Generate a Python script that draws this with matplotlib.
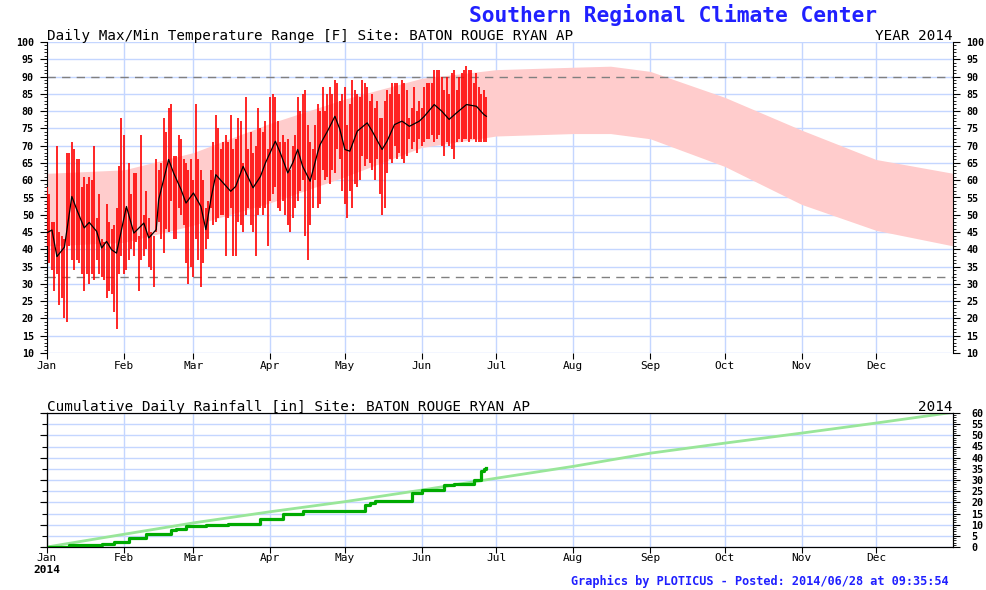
import matplotlib
matplotlib.use("Agg")
import matplotlib.pyplot as plt
import numpy as np

# ---- data (day of year, 0 = Jan 1) ----
month_days = [0, 31, 59, 90, 120, 151, 181, 212, 243, 273, 304, 334]
month_labels = ['Jan', 'Feb', 'Mar', 'Apr', 'May', 'Jun',
                'Jul', 'Aug', 'Sep', 'Oct', 'Nov', 'Dec']

# daily max / min temperature, Jan 1 .. Jun 27 2014
t_max = [58, 56, 48, 48, 70, 45, 44, 43, 68, 68, 71, 69, 66, 66, 58, 61, 59, 61,
         60, 70, 49, 56, 43, 42, 53, 48, 46, 47, 52, 64, 78, 73, 52, 65, 56, 62,
         62, 44, 73, 50, 57, 49, 45, 44, 66, 63, 65, 78, 74, 81, 82, 67, 67, 73,
         72, 66, 65, 63, 66, 60, 82, 66, 63, 60, 52, 54, 63, 71, 79, 75, 69, 71, 73,
         71, 79, 69, 72, 78, 77, 65, 84, 69, 74, 68, 70, 81, 75, 74, 77, 69, 84,
         85, 84, 77, 71, 73, 71, 72, 63, 70, 73, 84, 80, 85, 86, 76, 71, 69, 76,
         82, 80, 87, 80, 85, 87, 85, 89, 88, 83, 85, 87, 76, 82, 89, 86, 85, 84,
         89, 88, 87, 83, 85, 81, 83, 78, 78, 83, 86, 85, 88, 88, 88, 85, 89, 88, 86,
         78, 81, 87, 80, 83, 81, 87, 88, 88, 88, 92, 92, 92, 90, 86, 90, 85, 91,
         92, 86, 90, 91, 92, 93, 92, 92, 88, 91, 87, 85, 86, 84]
t_min = [41, 36, 34, 28, 33, 24, 26, 20, 19, 41, 37, 34, 37, 36, 33, 28, 33, 30,
         33, 31, 37, 33, 32, 31, 26, 28, 27, 22, 17, 33, 38, 33, 34, 37, 40, 38,
         42, 28, 37, 38, 40, 35, 34, 29, 45, 48, 43, 39, 46, 45, 54, 43, 43, 52,
         50, 47, 36, 30, 35, 32, 43, 37, 29, 36, 40, 43, 52, 47, 48, 49, 50, 50, 38,
         49, 52, 38, 38, 48, 47, 45, 50, 52, 47, 45, 38, 50, 52, 50, 52, 41, 54,
         56, 58, 52, 51, 54, 50, 47, 45, 49, 52, 54, 57, 60, 44, 37, 47, 52, 60,
         52, 53, 63, 60, 61, 59, 63, 62, 69, 66, 57, 53, 49, 57, 52, 59, 58, 60,
         67, 64, 66, 65, 63, 60, 66, 56, 50, 52, 62, 66, 65, 70, 66, 68, 66, 65, 67,
         72, 69, 71, 68, 72, 70, 71, 72, 72, 73, 71, 72, 73, 70, 67, 71, 70, 69,
         66, 71, 72, 71, 72, 72, 71, 72, 72, 71, 71, 71, 71, 71]

# running mean (black line)
avg_days = [0, 2, 4, 7, 10, 12, 15, 17, 20, 22, 24, 26, 28, 32, 35, 39, 41, 44,
            45, 49, 51, 54, 56, 59, 62, 64, 66, 68, 71, 74, 76, 79, 83, 86, 88,
            92, 94, 97, 99, 101, 103, 106, 109, 110, 113, 116, 118, 120, 122, 125,
            129, 131, 135, 137, 140, 143, 146, 150, 152, 156, 159, 162, 165, 169,
            173, 176, 177]
avg_vals = [44.8, 45.6, 37.9, 40.6, 55.3, 51.5, 46.2, 47.8, 45.2, 40.4, 42.3, 39.9,
            38.9, 52.4, 44.7, 47.6, 43.3, 45.7, 54.4, 66.0, 62.1, 57.3, 53.4, 56.3,
            52.4, 45.7, 54.4, 61.6, 59.2, 56.8, 58.2, 64.0, 57.8, 61.1, 65.0, 71.3,
            67.9, 62.1, 65.0, 68.9, 64.0, 59.7, 67.9, 70.3, 74.2, 78.5, 74.7, 68.9,
            68.4, 74.2, 76.6, 74.2, 68.9, 71.3, 76.1, 77.1, 75.6, 77.1, 78.5, 81.9,
            80.0, 77.6, 79.5, 81.9, 81.4, 79.0, 78.5]

# normal max / min (pink band)
norm_days = [0, 31, 59, 90, 120, 151, 181, 212, 227, 243, 273, 304, 334, 365]
norm_max = [62, 63, 68, 76.5, 83.5, 89.5, 92, 92.7, 93, 91.5, 84, 74.5, 66, 62]
norm_min = [41, 42, 47, 53.5, 61, 69.5, 72.8, 73.5, 73.5, 72, 64, 53, 45.5, 41]

ref_hot = 90
ref_freeze = 32

# cumulative rainfall 2014 (step points)
rain_days = [0, 9, 22, 27, 33, 40, 50, 52, 56, 59, 64, 73, 86, 95, 103, 128,
             130, 132, 147, 151, 160, 164, 172, 175, 176, 177]
rain_cum = [0, 1.0, 1.5, 2.2, 4.0, 6.0, 7.5, 8.0, 9.3, 9.5, 10.0, 10.5, 12.7,
            14.7, 16.0, 18.7, 19.8, 20.5, 24.0, 25.5, 27.7, 28.3, 30.0, 34.0,
            35.0, 35.5]

# normal cumulative rainfall
rnorm_days = [0, 31, 59, 90, 120, 151, 181, 212, 243, 273, 304, 334, 365]
rnorm_cum = [0, 5.7, 10.8, 15.8, 20.3, 25.5, 30.8, 36.1, 42.0, 46.5, 51.0, 55.5, 60.3]

mono = 'DejaVu Sans Mono'
gridc = '#c4d6ff'
blue = '#2020ff'
W, H = 987, 590

fig = plt.figure(figsize=(W / 100, H / 100), dpi=100)


def fx(px):
    return px / W


def fy(py):
    return 1 - py / H


# ---------------- temperature panel ----------------
ax = fig.add_axes([fx(47), fy(353), fx(906), 311 / H])
ax.set_xlim(0, 365)
ax.set_ylim(10, 100)
ax.fill_between(norm_days, norm_min, norm_max, color='#ffcccc', lw=0, zorder=1)
ax.axhline(ref_hot, color='#808080', ls=(0, (6, 4.5)), lw=1, zorder=2)
ax.axhline(ref_freeze, color='#808080', ls=(0, (6, 4.5)), lw=1, zorder=2)
days = np.arange(len(t_max))
ax.vlines(days, t_min, t_max, color='#ff0000', lw=1.2, zorder=3)
ax.plot(avg_days, avg_vals, color='black', lw=0.9, zorder=4)

ax.set_xticks(month_days)
ax.set_xticklabels(month_labels, fontfamily=mono, fontsize=8)
ax.set_yticks(np.arange(10, 101, 5))
ax.set_yticks(np.arange(10, 101, 1), minor=True)
ax.tick_params(axis='y', which='both', left=True, right=True,
               labelleft=True, labelright=True, labelsize=7.2)
ax.tick_params(axis='y', which='major', length=5, pad=4.5)
ax.tick_params(axis='y', which='minor', length=2.5)
ax.tick_params(axis='x', length=4, pad=1.5, labelsize=8)
for lab in ax.get_yticklabels():
    lab.set_fontfamily(mono)
    lab.set_fontweight('bold')
ax.grid(True, color=gridc, lw=1)
ax.set_axisbelow(True)
ax.spines['top'].set_visible(False)
ax.spines['bottom'].set_visible(False)

ax.text(0, 1.006, 'Daily Max/Min Temperature Range [F] Site: BATON ROUGE RYAN AP',
        transform=ax.transAxes, ha='left', va='baseline', fontfamily=mono, fontsize=10.3)
ax.text(1, 1.006, 'YEAR 2014', transform=ax.transAxes, ha='right', va='baseline',
        fontfamily=mono, fontsize=10.3)

# ---------------- rainfall panel ----------------
ax2 = fig.add_axes([fx(47), fy(547), fx(906), 134 / H])
ax2.set_xlim(0, 365)
ax2.set_ylim(0, 60)
ax2.plot(rnorm_days, rnorm_cum, color='#99e699', lw=2, zorder=2)
ax2.plot(rain_days, rain_cum, color='#00aa00', lw=2.3, drawstyle='steps-post', zorder=3)
ax2.set_xticks(month_days)
ax2.set_xticklabels(month_labels, fontfamily=mono, fontsize=8)
ax2.tick_params(axis='x', length=4, pad=0.5, labelsize=8)
ax2.set_yticks(np.arange(0, 61, 5))
ax2.tick_params(axis='y', left=False, labelleft=False)
ax2.grid(True, color=gridc, lw=1)
ax2.set_axisbelow(True)
for s in ['top', 'bottom', 'left', 'right']:
    ax2.spines[s].set_color('black')

left2 = ax2.secondary_yaxis('left')
left2.set_yticks(np.arange(0, 61, 10))
left2.tick_params(length=5, labelleft=False)

ax2r = ax2.twinx()
ax2r.set_ylim(0, 60)
ax2r.set_yticks(np.arange(0, 61, 5))
ax2r.set_yticks(np.arange(0, 61, 1), minor=True)
ax2r.tick_params(axis='y', which='major', length=5, pad=8, labelsize=7.2)
ax2r.tick_params(axis='y', which='minor', length=2.5)
for lab in ax2r.get_yticklabels():
    lab.set_fontfamily(mono)
    lab.set_fontweight('bold')

ax2.text(0, 1.015, 'Cumulative Daily Rainfall [in] Site: BATON ROUGE RYAN AP',
         transform=ax2.transAxes, ha='left', va='baseline', fontfamily=mono, fontsize=10.3)
ax2.text(1, 1.015, '2014', transform=ax2.transAxes, ha='right', va='baseline',
         fontfamily=mono, fontsize=10.3)
fig.text(fx(47), fy(570), '2014', ha='center', va='center', fontfamily=mono,
         fontsize=8, fontweight='bold')

# ---------------- titles ----------------
fig.text(fx(673), fy(15), 'Southern Regional Climate Center', ha='center', va='center',
         fontfamily=mono, fontsize=15.3, fontweight='bold', color=blue)
fig.text(fx(760), fy(581), 'Graphics by PLOTICUS - Posted: 2014/06/28 at 09:35:54',
         ha='center', va='center', fontfamily=mono, fontsize=8.6, fontweight='bold',
         color=blue)

fig.savefig('out.png', dpi=100)
